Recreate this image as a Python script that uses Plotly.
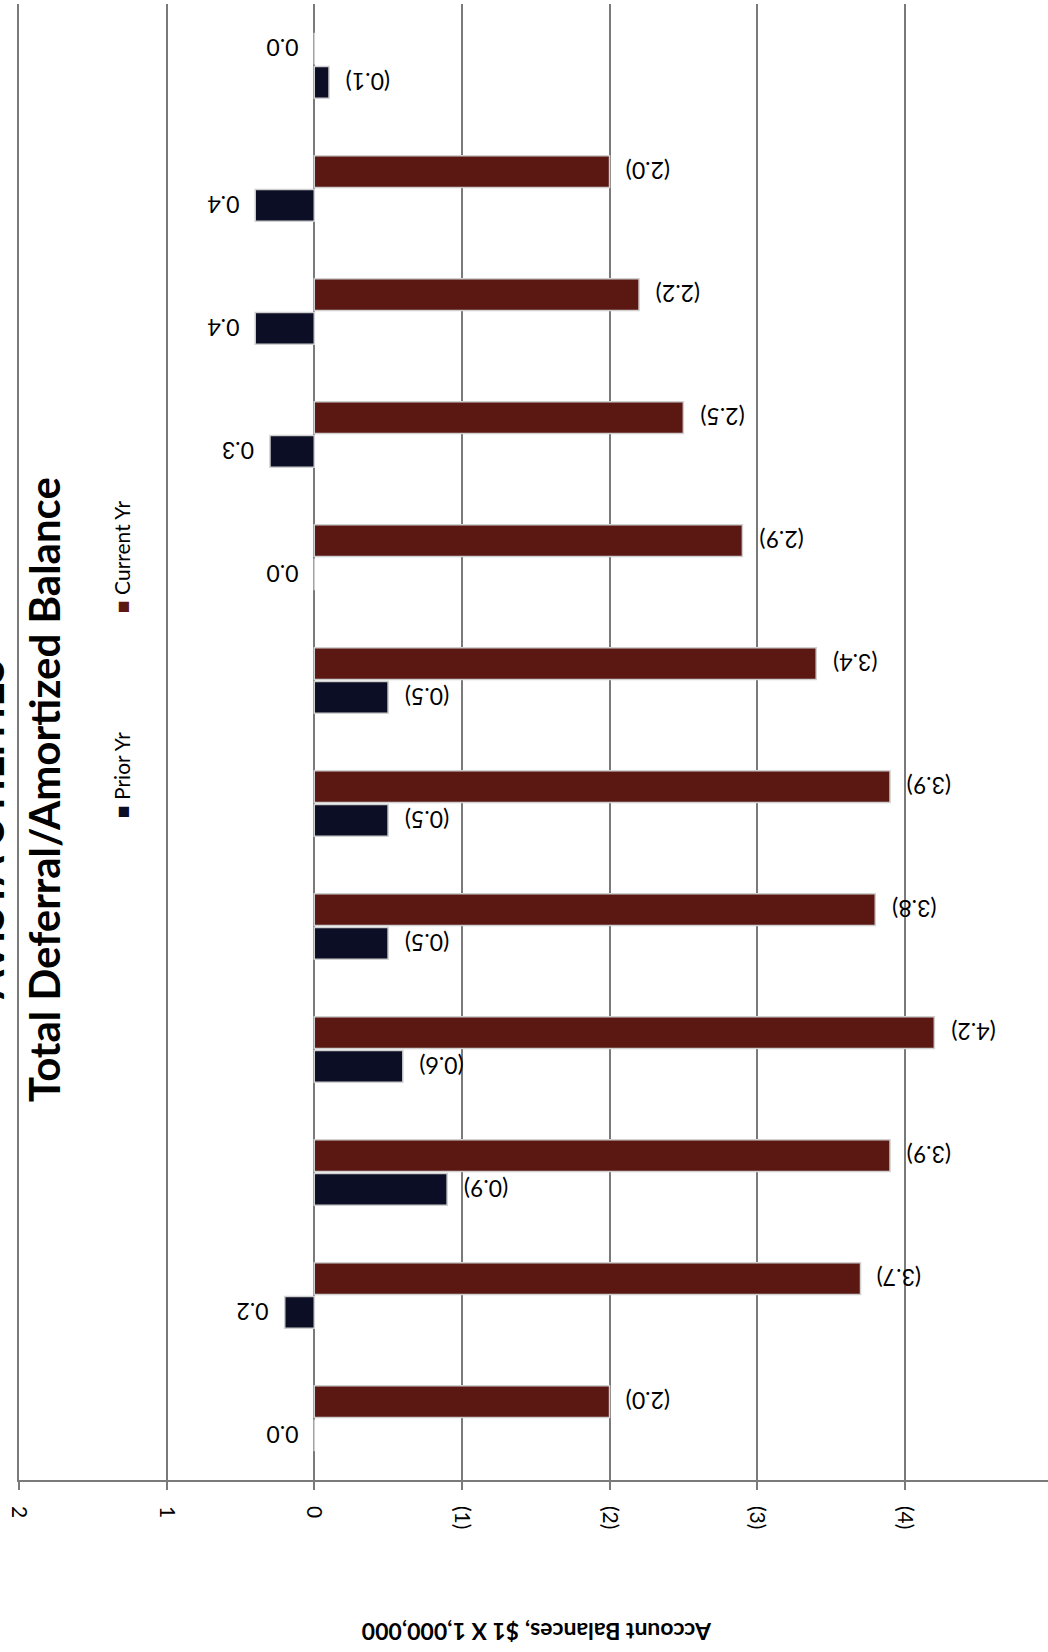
import plotly.graph_objects as go

# ---- data ----
categories = ["Jan", "Feb", "Mar", "Apr", "May", "Jun",
              "Jul", "Aug", "Sep", "Oct", "Nov", "Dec"]
prior_yr = [0.0, 0.2, -0.9, -0.6, -0.5, -0.5, -0.5, 0.0, 0.3, 0.4, 0.4, -0.1]
current_yr = [-2.0, -3.7, -3.9, -4.2, -3.8, -3.9, -3.4, -2.9, -2.5, -2.2, -2.0, 0.0]
tick_vals = [2, 1, 0, -1, -2, -3, -4, -5]
tick_text = ["2", "1", "0", "(1)", "(2)", "(3)", "(4)", "(5)"]
title_main = "Total Deferral/Amortized Balance"
title_company = "AVISTA UTILITIES"
axis_title = "Account Balances, $1 X 1,000,000"

PRIOR_COLOR = "#0b0e24"
CURRENT_COLOR = "#5b1813"
FONT = "Lato"

W, H = 1048, 1652
ML, MR, MT, MB = 19, 0, 4, 172
PW, PH = W - ML - MR, H - MT - MB


def fmt(v):
    return f"({abs(v):.1f})" if v < 0 else f"{v:.1f}"


def px_x(px):
    return (px - ML) / PW


def px_y(py):
    return (H - MB - py) / PH


fig = go.Figure()
fig.add_trace(go.Bar(
    y=categories, x=prior_yr, orientation="h", name="Prior Yr",
    marker=dict(color=PRIOR_COLOR, line=dict(color="#d0d0d0", width=1.5)),
))
fig.add_trace(go.Bar(
    y=categories, x=current_yr, orientation="h", name="Current Yr",
    marker=dict(color=CURRENT_COLOR, line=dict(color="#d0d0d0", width=1.5)),
))

annotations = []
for series, shift in ((prior_yr, -17), (current_yr, 17)):
    for cat, v in zip(categories, series):
        if v < 0:
            xa, xs = "left", 15
        else:
            xa, xs = "right", -14
        annotations.append(dict(
            x=v, y=cat, xref="x", yref="y", text=fmt(v), showarrow=False,
            textangle=180, xanchor=xa, yanchor="middle", xshift=xs, yshift=shift,
            font=dict(family=FONT, size=23, color="#000000"),
        ))

# titles (rotated, as in the scanned page)
annotations.append(dict(
    x=px_x(44), y=px_y(790), xref="paper", yref="paper", text=f"<b>{title_main}</b>",
    showarrow=False, textangle=-90, xanchor="center", yanchor="middle",
    font=dict(family=FONT, size=42, color="#000000"),
))
annotations.append(dict(
    x=px_x(-12), y=px_y(830), xref="paper", yref="paper", text=f"<b>{title_company}</b>",
    showarrow=False, textangle=-90, xanchor="center", yanchor="middle",
    font=dict(family=FONT, size=42, color="#000000"),
))
# legend (rotated)
annotations.append(dict(
    x=px_x(121), y=px_y(775), xref="paper", yref="paper",
    text=f'<span style="color:{PRIOR_COLOR}">■</span> Prior Yr',
    showarrow=False, textangle=-90, xanchor="center", yanchor="middle",
    font=dict(family=FONT, size=21, color="#000000"),
))
annotations.append(dict(
    x=px_x(121), y=px_y(557), xref="paper", yref="paper",
    text=f'<span style="color:{CURRENT_COLOR}">■</span> Current Yr',
    showarrow=False, textangle=-90, xanchor="center", yanchor="middle",
    font=dict(family=FONT, size=21, color="#000000"),
))
# value-axis title (upside down)
annotations.append(dict(
    x=px_x(537), y=px_y(1632), xref="paper", yref="paper", text=f"<b>{axis_title}</b>",
    showarrow=False, textangle=180, xanchor="center", yanchor="middle",
    font=dict(family=FONT, size=23, color="#000000"),
))

fig.update_layout(
    width=W, height=H,
    margin=dict(l=ML, r=MR, t=MT, b=MB),
    paper_bgcolor="white", plot_bgcolor="white",
    barmode="group", bargap=0.45, bargroupgap=0.06,
    showlegend=False,
    annotations=annotations,
    font=dict(family=FONT, size=18, color="#000000"),
    xaxis=dict(
        range=[2, -4.97], tickvals=tick_vals, ticktext=tick_text, tickangle=90,
        showgrid=True, gridcolor="#7a7a7a", gridwidth=1.6,
        zeroline=True, zerolinecolor="#7a7a7a", zerolinewidth=1.6,
        showline=True, linecolor="#7a7a7a", linewidth=1.6,
        ticks="outside", ticklen=8, tickcolor="#7a7a7a", tickwidth=1.6,
        ticklabelstandoff=12,
        tickfont=dict(family=FONT, size=21, color="#000000"),
    ),
    yaxis=dict(
        range=[-0.5, 11.5], showticklabels=False, showgrid=False,
        showline=True, linecolor="#7a7a7a", linewidth=1.6, ticks="",
        zeroline=False,
    ),
)

fig.write_html("out.html")
